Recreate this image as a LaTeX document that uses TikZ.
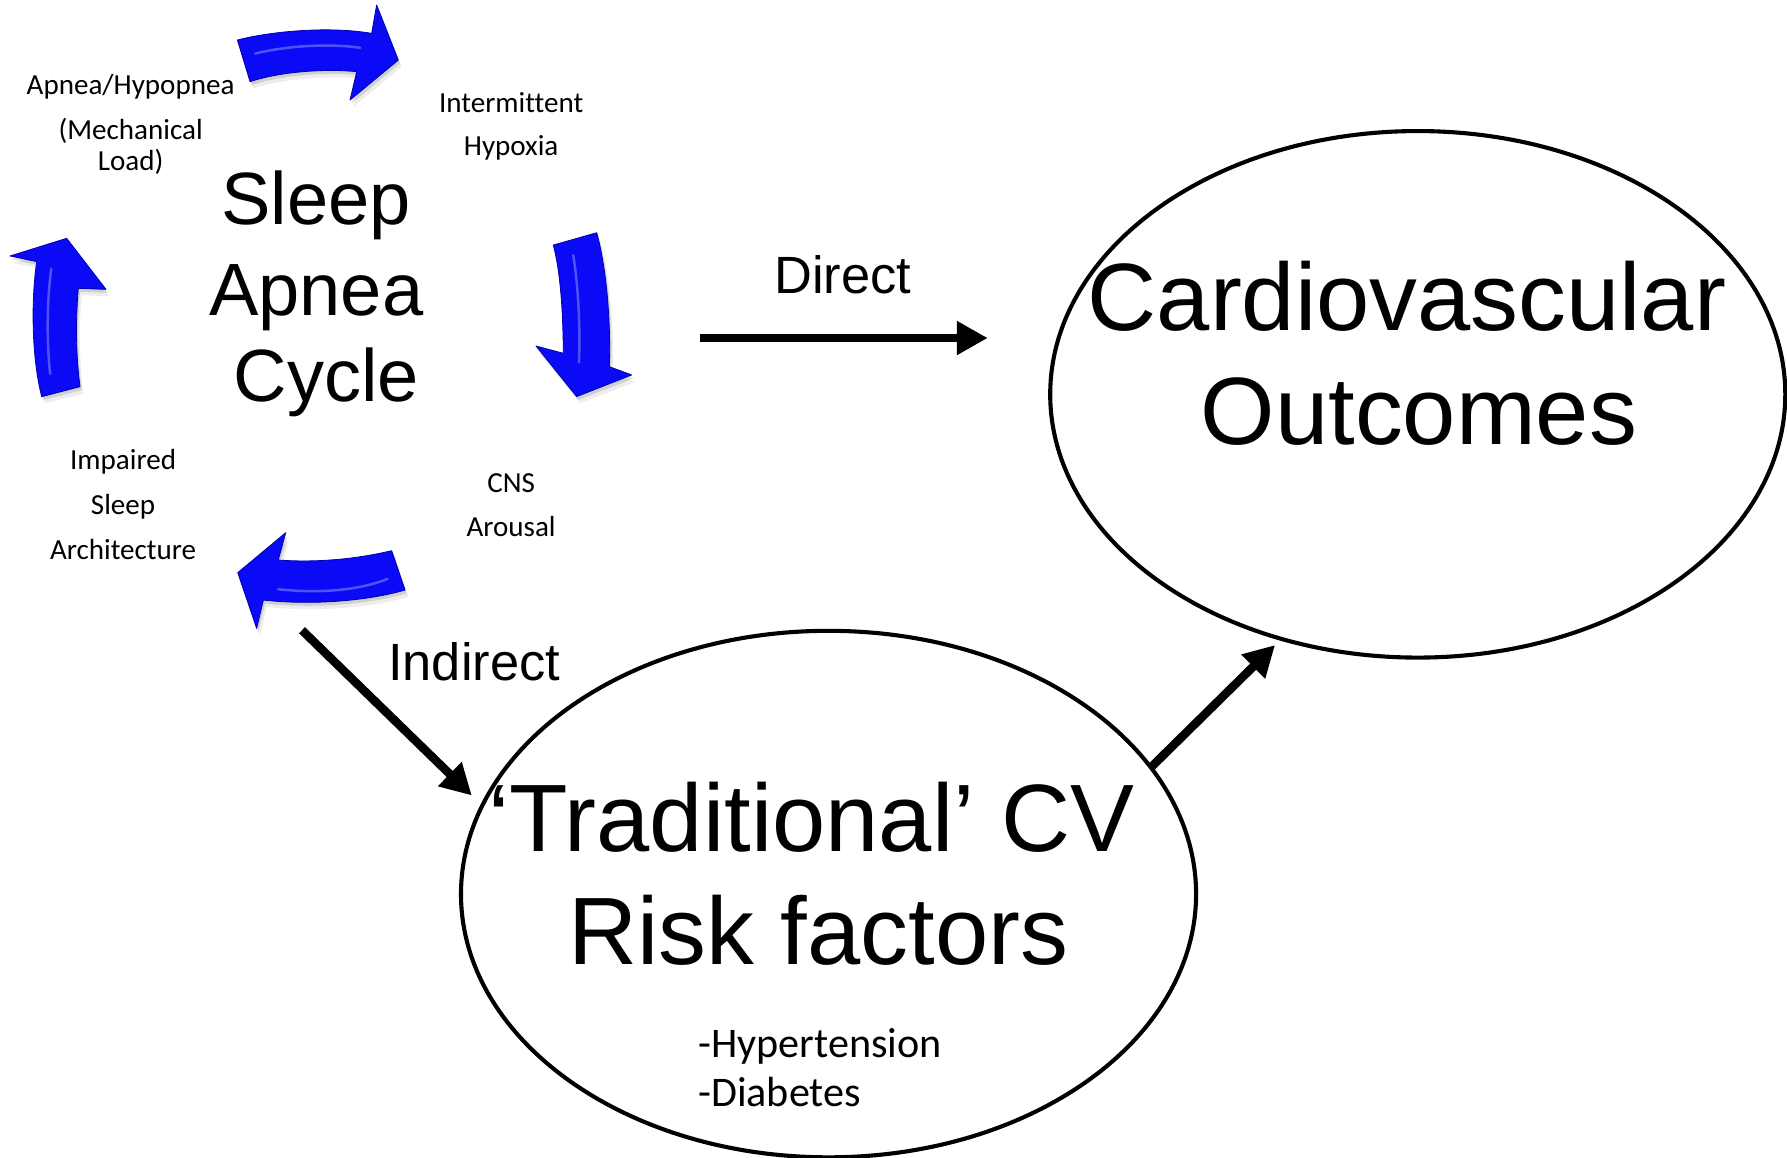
\documentclass[tikz,border=0pt]{standalone}
\usepackage{fontspec}
\setmainfont{Liberation Sans}
\newfontfamily\labelfont[Ligatures=NoCommon]{Carlito}
\usetikzlibrary{shapes.geometric,arrows.meta}

\definecolor{cycleblue}{RGB}{10,10,246}
\definecolor{cycleedge}{RGB}{0,0,175}
\definecolor{cyclelight}{RGB}{140,140,255}

% outlines of the four curved arrows of the cycle
\newcommand\cyclearrowtop{(208.3,35.1) .. controls (240,27) and (290,23) .. (326.1,29.3) -- (330.5,4.4) -- (349.5,52.7) -- (307.1,87.8) -- (313,62.9) .. controls (285,60) and (245,63) .. (219.4,71.7) -- cycle}
\newcommand\cyclearrowright{(485.5,215) -- (523.6,204.2) .. controls (532,235) and (536,280) .. (534.7,321.8) -- (554.3,329) -- (506,348) -- (470.3,303.6) -- (494.3,310) .. controls (494,275) and (492,240) .. (485.5,215) -- cycle}
\newcommand\cyclearrowbottom{(208.6,502.5) -- (250.7,467.4) -- (244.2,491.4) .. controls (280,494) and (315,490) .. (343.7,483.2) -- (355.4,517.7) .. controls (320,528) and (270,531) .. (231.1,526.5) -- (225.2,551.4) -- cycle}
\newcommand\cyclearrowleft{(58.5,209.1) -- (93,253.9) -- (68.7,253) .. controls (66,285) and (67,315) .. (70.2,339.3) -- (36.6,348.1) .. controls (28,315) and (27,265) .. (32.2,229.6) -- (8.8,224.6) -- cycle}

\tikzset{
  bigtext/.style={font=\fontsize{84}{100}\selectfont, anchor=base, inner sep=0pt},
  cycletext/.style={font=\fontsize{65}{78}\selectfont, anchor=base, inner sep=0pt},
  pathlabel/.style={font=\fontsize{46}{55}\selectfont, anchor=base, inner sep=0pt},
  steplabel/.style={font=\labelfont\fontsize{25.5}{30}\selectfont, anchor=base, inner sep=0pt},
  risklabel/.style={font=\labelfont\fontsize{37}{44}\selectfont, anchor=base west, inner sep=0pt},
  outcome/.style={ellipse, draw, line width=3.6pt, minimum width=645pt, minimum height=462pt, inner sep=0pt},
  link/.style={line width=7.5pt, -{Triangle[length=27pt,width=28pt]}},
  cyclefill/.style={fill=cycleblue, draw=cycleedge, line width=0.7pt, line join=round},
  cycleshine/.style={draw=cyclelight, line width=2.2pt, opacity=0.55, line cap=round},
}

\begin{document}
\begin{tikzpicture}[x=1pt, y=-1pt]
  \useasboundingbox (0,0) rectangle (1568,1016);
  \fill[white] (0,0) rectangle (1568,1016);

  % soft shadows under the cycle arrows
  \begin{scope}[shift={(3,6)}]
    \foreach \p in {\cyclearrowtop,\cyclearrowright,\cyclearrowbottom,\cyclearrowleft}
      \fill[black, opacity=0.07] \p;
  \end{scope}
  \begin{scope}[shift={(1.5,3)}]
    \foreach \p in {\cyclearrowtop,\cyclearrowright,\cyclearrowbottom,\cyclearrowleft}
      \fill[black, opacity=0.12] \p;
  \end{scope}

  % the cycle arrows
  \path[cyclefill] \cyclearrowtop;
  \path[cyclefill] \cyclearrowright;
  \path[cyclefill] \cyclearrowbottom;
  \path[cyclefill] \cyclearrowleft;

  % bevel highlights along the arrow bodies
  \draw[cycleshine] (224,47) .. controls (252,40) and (290,38) .. (316,42);
  \draw[cycleshine] (503,224) .. controls (508,255) and (509,290) .. (508,318);
  \draw[cycleshine] (244,517) .. controls (280,521) and (315,518) .. (340,508);
  \draw[cycleshine] (45,236) .. controls (41,265) and (41,300) .. (44,328);

  % centre of the cycle
  \node[cycletext] (sleep) at (277.5,197.4) {Sleep};
  \node[cycletext] (apnea) at (277.5,276.4) {Apnea};
  \node[cycletext] (cycle) at (286.5,352.5) {Cycle};

  % stages of the cycle
  \node[steplabel] (stageA1) at (114.6,82.5) {Apnea/Hypopnea};
  \node[steplabel] (stageA2) at (114.6,122.3) {(Mechanical};
  \node[steplabel] (stageA3) at (114.6,149.8) {Load)};
  \node[steplabel] (stageB1) at (448.5,98.6) {Intermittent};
  \node[steplabel] (stageB2) at (448.5,136.5) {Hypoxia};
  \node[steplabel] (stageC1) at (448.5,432) {CNS};
  \node[steplabel] (stageC2) at (448.5,471) {Arousal};
  \node[steplabel] (stageD1) at (108,412) {Impaired};
  \node[steplabel] (stageD2) at (108,451.5) {Sleep};
  \node[steplabel] (stageD3) at (108,491) {Architecture};

  % outcome ellipses
  \node[outcome] (cvo) at (1244,346) {};
  \node[outcome] (cvrisk) at (727,784.5) {};

  \node[bigtext] (cvo1) at (1234.5,290) {Cardiovascular};
  \node[bigtext] (cvo2) at (1245,390) {Outcomes};
  \node[bigtext] (risk1) at (712,747) {‘Traditional’ CV};
  \node[bigtext] (risk2) at (718,846) {Risk factors};
  \node[risklabel] (risk3) at (612.5,927.5) {-Hypertension};
  \node[risklabel] (risk4) at (612.5,971) {-Diabetes};

  % pathways
  \coordinate (directstart) at (614.3,296.6);
  \coordinate (directend) at (866.7,296.6);
  \coordinate (indirectstart) at (265,553);
  \coordinate (indirectend) at (414,698);
  \coordinate (riskout) at (1009,674.2);
  \coordinate (outcomein) at (1118.8,566);

  \draw[link] (directstart) -- (directend);
  \draw[link] (indirectstart) -- (indirectend);
  \draw[link] (riskout) -- (outcomein);

  \node[pathlabel] (direct) at (739.5,257.5) {Direct};
  \node[pathlabel] (indirect) at (416,597) {Indirect};
\end{tikzpicture}
\end{document}
